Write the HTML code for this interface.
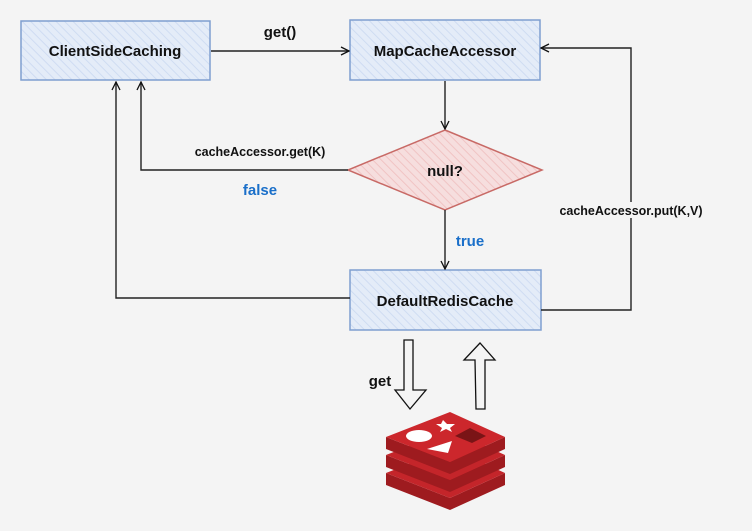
<!DOCTYPE html>
<html><head><style>
html,body{margin:0;padding:0;background:#f4f4f4;}
svg{display:block;font-family:"Liberation Sans",Arial,sans-serif;}
</style></head><body>
<svg width="752" height="531" viewBox="0 0 752 531" xmlns="http://www.w3.org/2000/svg">
<defs>
<pattern id="hb" width="6" height="6" patternUnits="userSpaceOnUse" patternTransform="rotate(-45)">
<rect width="6" height="6" fill="#e4ecf8"/><line x1="0" y1="0" x2="0" y2="6" stroke="#cfdcf2" stroke-width="2"/></pattern>
<pattern id="hr" width="6" height="6" patternUnits="userSpaceOnUse" patternTransform="rotate(-45)">
<rect width="6" height="6" fill="#f6dede"/><line x1="0" y1="0" x2="0" y2="6" stroke="#f0c4c4" stroke-width="2"/></pattern>
<marker id="a" markerWidth="10" markerHeight="10" refX="9" refY="5" orient="auto" markerUnits="userSpaceOnUse"><path d="M1,1 L9,5 L1,9" fill="none" stroke="#111" stroke-width="1.3"/></marker>
</defs>
<rect width="752" height="531" fill="#f4f4f4"/>
<rect x="21" y="21" width="189" height="59" fill="url(#hb)" stroke="#7f9fd0" stroke-width="1.5"/>
<text x="115" y="56" text-anchor="middle" font-size="15" font-weight="bold" fill="#111">ClientSideCaching</text>
<rect x="350" y="20" width="190" height="60" fill="url(#hb)" stroke="#7f9fd0" stroke-width="1.5"/>
<text x="445" y="56" text-anchor="middle" font-size="15" font-weight="bold" fill="#111">MapCacheAccessor</text>
<rect x="350" y="270" width="191" height="60" fill="url(#hb)" stroke="#7f9fd0" stroke-width="1.5"/>
<text x="445" y="306" text-anchor="middle" font-size="15" font-weight="bold" fill="#111">DefaultRedisCache</text>
<polygon points="445,130 542,170 445,210 348,170" fill="url(#hr)" stroke="#c86a66" stroke-width="1.5"/>
<text x="445" y="176" text-anchor="middle" font-size="15" font-weight="bold" fill="#111">null?</text>
<g fill="none" stroke="#222" stroke-width="1.4">
<line x1="211" y1="51" x2="349" y2="51" marker-end="url(#a)"/>
<line x1="445" y1="81" x2="445" y2="129" marker-end="url(#a)"/>
<line x1="445" y1="210" x2="445" y2="269" marker-end="url(#a)"/>
<polyline points="348,170 141,170 141,82" marker-end="url(#a)"/>
<polyline points="350,298 116,298 116,82" marker-end="url(#a)"/>
<polyline points="541,310 631,310 631,48 541,48" marker-end="url(#a)"/>
</g>
<text x="280" y="37" text-anchor="middle" font-size="15" font-weight="bold" fill="#111">get()</text>
<text x="260" y="156" text-anchor="middle" font-size="12.5" font-weight="bold" fill="#111">cacheAccessor.get(K)</text>
<text x="260" y="195" text-anchor="middle" font-size="15" font-weight="bold" fill="#1a6fc9">false</text>
<text x="470" y="246" text-anchor="middle" font-size="15" font-weight="bold" fill="#1a6fc9">true</text>
<rect x="550" y="202" width="162" height="16" fill="#f4f4f4"/>
<text x="631" y="215" text-anchor="middle" font-size="12.5" font-weight="bold" fill="#111">cacheAccessor.put(K,V)</text>
<g fill="none" stroke="#111" stroke-width="1.3">
<polygon points="404,340 413,340 413,390 426,390 410,409 395,390 404,390"/>
<polygon points="476,409 485,409 485,360 495,360 480,343 464,360 475,360"/>
</g>
<text x="380" y="386" text-anchor="middle" font-size="15" font-weight="bold" fill="#111">get</text>
<g>
<!-- bottom layer -->
<path d="M386,473 L386,485 L450,510 L505,485 L505,473 L450,498 Z" fill="#9e1b1f"/>
<polygon points="386,473 450,448 505,473 450,498" fill="#c4252a"/>
<!-- middle layer -->
<path d="M386,455 L386,467 L450,492 L505,467 L505,455 L450,480 Z" fill="#9e1b1f"/>
<polygon points="386,455 450,430 505,455 450,480" fill="#c4252a"/>
<!-- top layer -->
<path d="M386,437 L386,449 L450,474 L505,449 L505,437 L450,462 Z" fill="#9e1b1f"/>
<polygon points="386,437 450,412 505,437 450,462" fill="#cc272c"/>
<ellipse cx="419" cy="436" rx="13" ry="6" fill="#fff"/>
<polygon points="427,449 452,441 448,453" fill="#fff"/>
<polygon points="443,420 447,424 455,424 450,428 452,432 446,429 440,432 442,428 436,424 441,424" fill="#fff"/>
<polygon points="455,436 470,428 486,436 472,443" fill="#7a1416"/>
</g>
</svg>
</body></html>
